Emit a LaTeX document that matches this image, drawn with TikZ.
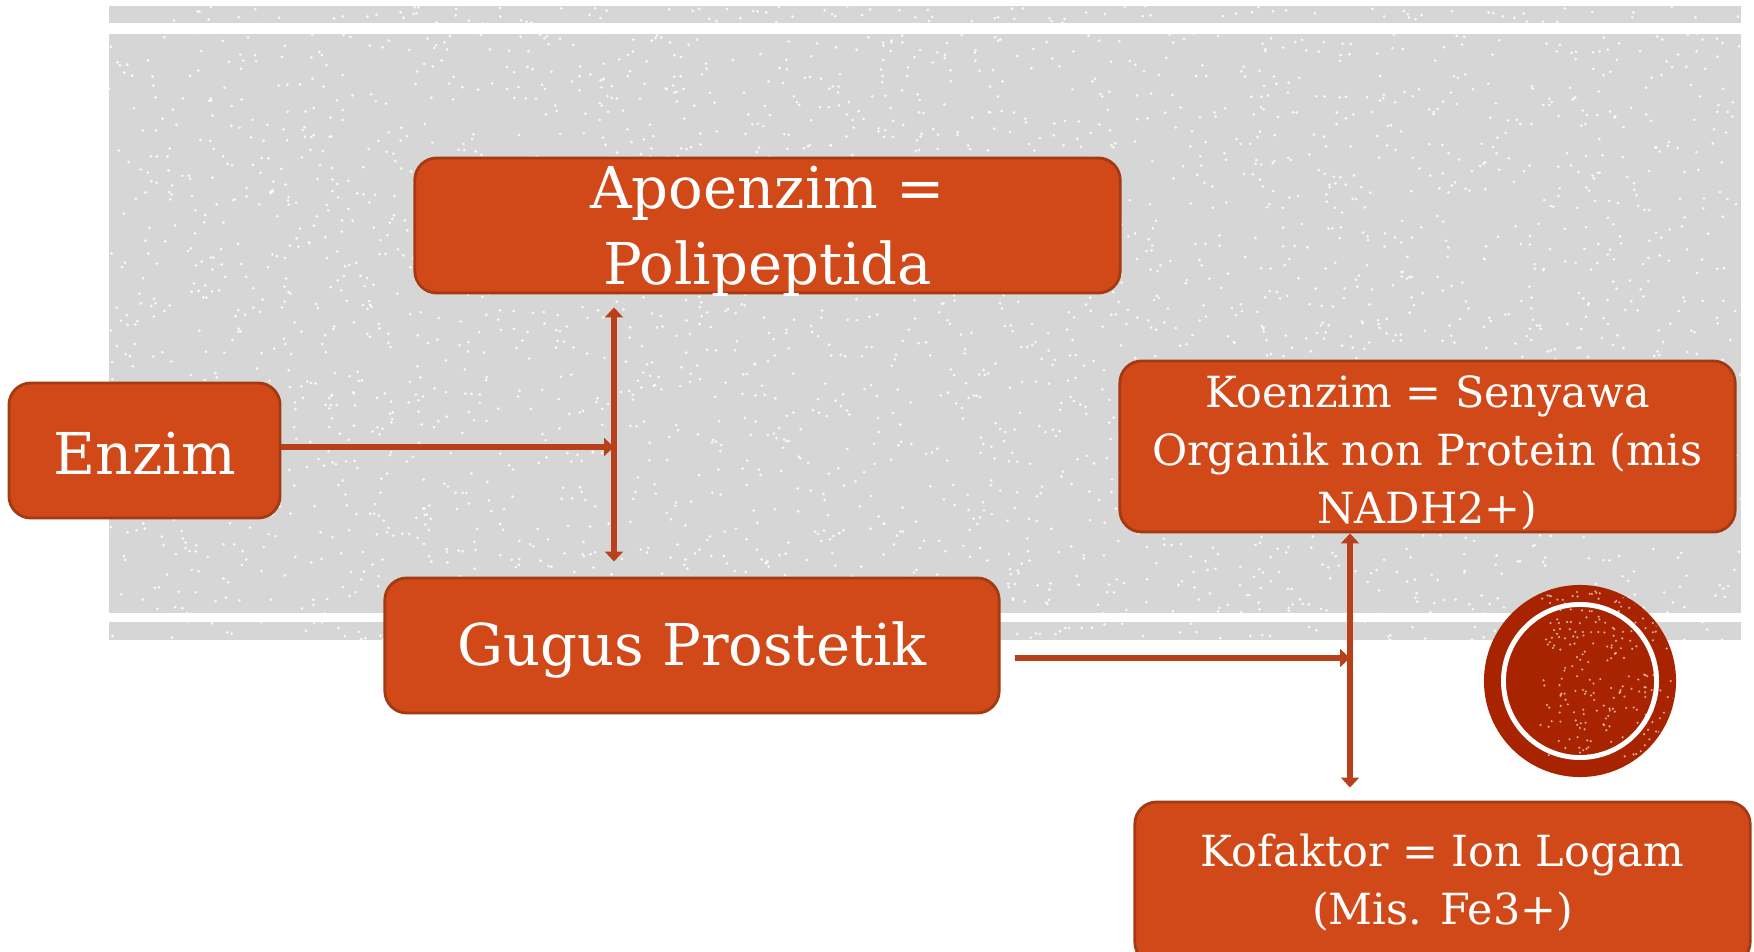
\documentclass[tikz,border=0pt]{standalone}
\usepackage{fontspec}
\setmainfont{DejaVu Serif}
\usetikzlibrary{arrows.meta}
\definecolor{boxfill}{HTML}{D14919}
\definecolor{boxline}{HTML}{A33A12}
\definecolor{linkred}{HTML}{B8401A}
\definecolor{panelgray}{HTML}{D6D6D6}
\definecolor{dotred}{HTML}{A82400}
\tikzset{
  box/.style={draw=boxline, line width=0.8pt, fill=boxfill, rounded corners=0.22cm,
    text=white, align=center, inner sep=0pt},
  bigtext/.style={font=\fontsize{16.4}{21.6}\selectfont},
  smalltext/.style={font=\fontsize{12.2}{16.5}\selectfont},
  link/.style={draw=linkred, line width=1.8pt},
  tip/.style={-{Triangle[length=2.8pt,width=5pt]}},
  bothtips/.style={{Triangle[length=2.8pt,width=5pt]}-{Triangle[length=2.8pt,width=5pt]}},
}

\begin{document}
\begin{tikzpicture}[x=0.01cm, y=-0.01cm]
\clip (0,0) rectangle (1754,952);
\fill[white] (0,0) rectangle (1754,952);
% gray panel with speckles
\fill[panelgray] (109,6) rectangle (1741,23);
\fill[panelgray] (109,34) rectangle (1741,613);
\fill[panelgray] (109,622) rectangle (1741,640);
\pgfmathsetseed{7}
\begin{scope}
  \clip (109,6) rectangle (1741,23) (109,34) rectangle (1741,613) (109,622) rectangle (1741,640);
  \foreach \i in {1,...,3200}
    \fill[white, opacity=0.85] ({109+1632*rnd},{6+634*rnd}) circle (0.015cm);
\end{scope}

% round mark
\fill[dotred] (1580,681) circle (0.96cm);
\begin{scope}
  \clip (1580,681) circle (0.94cm);
  \foreach \i in {1,...,260}
    \fill[white, opacity=0.6] ({1540+140*rnd},{590+170*rnd}) circle (0.012cm);
\end{scope}
\draw[white, line width=1.4pt] (1580,681) circle (0.765cm);

\node[box, bigtext, minimum width=7.05cm, minimum height=1.35cm] (apo) at (767.5,225.5) {Apoenzim =\\\raisebox{0pt}[\height][0pt]{Polipeptida}};
\node[box, bigtext, minimum width=2.71cm, minimum height=1.35cm] (enz) at (144.5,450.5) {\rule{0pt}{13.6pt}Enzim};
\node[box, bigtext, minimum width=6.14cm, minimum height=1.35cm] (gug) at (692,645.5) {\rule{0pt}{14.8pt}Gugus Prostetik};
\node[box, smalltext, minimum width=6.15cm, minimum height=1.71cm] (koe) at (1427.5,446.5) {\rule{0pt}{12.7pt}Koenzim = Senyawa\\Organik non Protein (mis\\NADH2+)};
\node[box, smalltext, minimum width=6.15cm, minimum height=1.62cm] (kof) at (1442.5,883) {Kofaktor = Ion Logam\\(Mis. Fe3+)};

\coordinate (ja) at (614,447);
\coordinate (jb) at (1350,658);

\draw[link, bothtips, shorten <=0.13cm, shorten >=0.15cm] (ja |- apo.south) -- (ja |- gug.north);
\draw[link, tip] (enz.east |- ja) -- (ja);
\draw[link, bothtips, shorten >=0.13cm] (jb |- koe.south) -- (jb |- kof.north);
\draw[link, tip, shorten <=0.14cm] (gug.east |- jb) -- (jb);
\end{tikzpicture}
\end{document}
